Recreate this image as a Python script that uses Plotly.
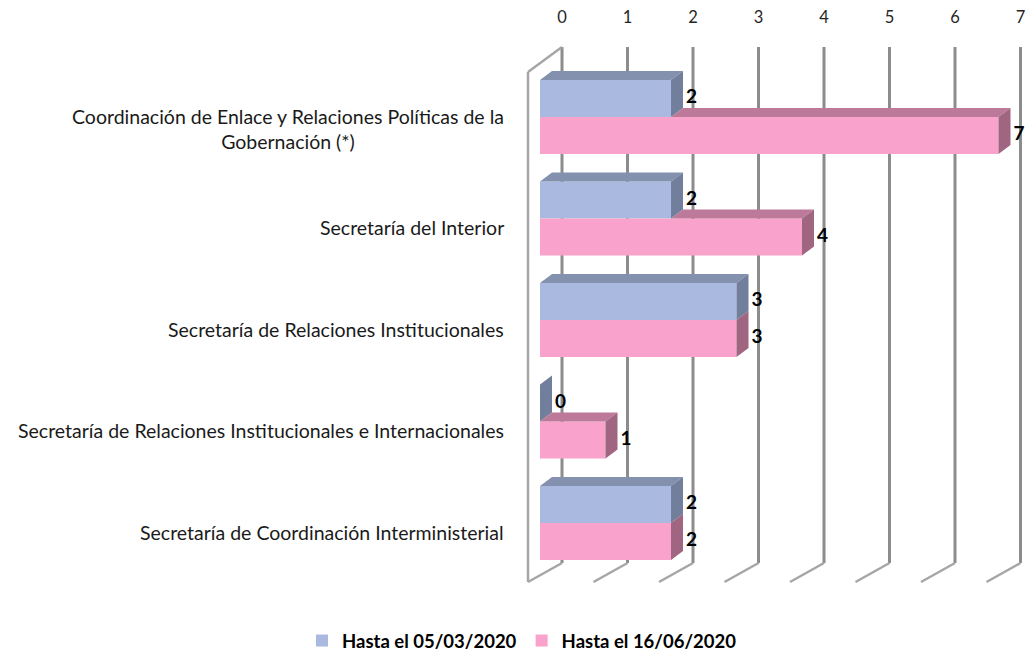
import plotly.graph_objects as go

# ---------------- data ----------------
categories = [
    "Coordinación de Enlace y Relaciones Políticas de la<br>Gobernación (*)",
    "Secretaría del Interior",
    "Secretaría de Relaciones Institucionales",
    "Secretaría de Relaciones Institucionales e Internacionales",
    "Secretaría de Coordinación Interministerial",
]
series_names = ["Hasta el 05/03/2020", "Hasta el 16/06/2020"]
values_0503 = [2, 2, 3, 0, 2]
values_1606 = [7, 4, 3, 1, 2]
x_ticks = [0, 1, 2, 3, 4, 5, 6, 7]

# ---------------- styles / geometry ----------------
W, H = 1028, 656
M_L, M_R, M_T, M_B = 520, 3, 40, 56
PX_X = 65.5          # pixels per value unit
PX_Y = 101.5         # pixels per category
X0_PX = 540          # pixel of value 0 (bar front)
Y0_PX = 117          # pixel of first category centre

x_lo = (M_L - X0_PX) / PX_X
x_hi = x_lo + (W - M_L - M_R) / PX_X
y_top = (M_T - Y0_PX) / PX_Y
y_bot = y_top + (H - M_T - M_B) / PX_Y

BAR_H = 37 / PX_Y
DX = 12 / PX_X          # bar depth (x)
DY = 9 / PX_Y           # bar depth (y, upward)
LABEL_PAD = 3 / PX_X
BACK_X = 22 / PX_X      # back wall offset
FRONT_X = -12 / PX_X    # front plane offset
BACK_TOP = (47 - Y0_PX) / PX_Y
BACK_BOT = (563 - Y0_PX) / PX_Y
FRONT_TOP = (72 - Y0_PX) / PX_Y
FRONT_BOT = (582 - Y0_PX) / PX_Y
LABEL_DY = [12 / PX_Y, 9 / PX_Y, 9 / PX_Y, 9 / PX_Y, 9 / PX_Y]

colors = {
    "front": ["#aab9df", "#f8a2cc"],
    "top": ["#8391af", "#bd7999"],
    "side": ["#727f9c", "#9f6581"],
}
FONT = "Lato"

fig = go.Figure()

vals = [values_0503, values_1606]
offs = [-BAR_H / 2, BAR_H / 2]

# front faces
for s in range(2):
    ys = [i + offs[s] for i in range(len(categories))]
    fig.add_trace(go.Bar(
        orientation="h", x=vals[s], y=ys, base=0, width=BAR_H,
        marker=dict(color=colors["front"][s], line=dict(width=0)),
        name=series_names[s], hoverinfo="x",
    ))

# top and side faces (polygons derived from values)
for s in range(2):
    top_x, top_y, side_x, side_y = [], [], [], []
    for i in range(len(categories)):
        v = vals[s][i]
        yt = i + offs[s] - BAR_H / 2
        yb = i + offs[s] + BAR_H / 2
        start = 0
        if s == 1:
            start = min(values_0503[i], v)
        if v > start or s == 0:
            top_x += [start, v, v + DX, start + DX, start, None]
            top_y += [yt, yt, yt - DY, yt - DY, yt, None]
        side_x += [v, v + DX, v + DX, v, v, None]
        side_y += [yt, yt - DY, yb - DY, yb, yt, None]
    fig.add_trace(go.Scatter(x=top_x, y=top_y, mode="lines", fill="toself",
                             fillcolor=colors["top"][s], line=dict(width=0),
                             showlegend=False, hoverinfo="skip"))
    fig.add_trace(go.Scatter(x=side_x, y=side_y, mode="lines", fill="toself",
                             fillcolor=colors["side"][s], line=dict(width=0),
                             showlegend=False, hoverinfo="skip"))

# value labels
for s in range(2):
    ys = [i + offs[s] for i in range(len(categories))]
    fig.add_trace(go.Scatter(
        x=[v + DX + LABEL_PAD for v in vals[s]], y=ys, mode="text",
        text=[f"<b>{v}</b>" for v in vals[s]], textposition="middle right",
        textfont=dict(family=FONT, size=19, color="#000000"),
        showlegend=False, hoverinfo="skip"))

# walls / gridlines (below traces)
shapes = []
GRID = "#8c8c8c"
FLOOR = "#a6a6a6"
for k in x_ticks:
    shapes.append(dict(type="line", xref="x", yref="y", layer="below",
                       x0=k + BACK_X, x1=k + BACK_X, y0=BACK_TOP, y1=BACK_BOT,
                       line=dict(color=GRID, width=3)))
    shapes.append(dict(type="line", xref="x", yref="y", layer="below",
                       x0=k + BACK_X, x1=k + FRONT_X, y0=BACK_BOT, y1=FRONT_BOT,
                       line=dict(color=FLOOR, width=2.5)))
# left wall
shapes.append(dict(type="line", xref="x", yref="y", layer="below",
                   x0=FRONT_X, x1=FRONT_X, y0=FRONT_TOP, y1=FRONT_BOT,
                   line=dict(color=FLOOR, width=2.5)))
shapes.append(dict(type="line", xref="x", yref="y", layer="below",
                   x0=FRONT_X, x1=BACK_X, y0=FRONT_TOP, y1=BACK_TOP,
                   line=dict(color=FLOOR, width=2.5)))

# category labels
annotations = []
for i, c in enumerate(categories):
    annotations.append(dict(
        x=0, xref="paper", xanchor="right", xshift=-14,
        y=i + LABEL_DY[i], yref="y", yanchor="middle",
        text=c, align="center", showarrow=False,
        font=dict(family=FONT, size=19.5, color="#1a1a1a")))

fig.update_layout(
    width=W, height=H,
    margin=dict(l=M_L, r=M_R, t=M_T, b=M_B, pad=0),
    paper_bgcolor="white", plot_bgcolor="rgba(0,0,0,0)",
    barmode="overlay",
    shapes=shapes, annotations=annotations,
    xaxis=dict(range=[x_lo, x_hi], side="top", showgrid=False, zeroline=False,
               showline=False, tickmode="array",
               tickvals=[k + BACK_X for k in x_ticks],
               ticktext=[str(k) for k in x_ticks],
               ticks="outside", ticklen=9, tickcolor="rgba(0,0,0,0)",
               tickfont=dict(family=FONT, size=16.5, color="#262626")),
    yaxis=dict(range=[y_bot, y_top], showgrid=False, zeroline=False,
               showline=False, showticklabels=False, ticks=""),
    legend=dict(orientation="h", xref="container", yref="container",
                x=522 / W, xanchor="center", y=(H - 641) / H, yanchor="middle",
                font=dict(family=FONT, size=18.5, color="#000000", weight="bold"),
                itemwidth=30, traceorder="normal"),
    font=dict(family=FONT),
)

fig.write_html("out.html", config={"displayModeBar": False},
               post_script="document.body.style.margin='0';")
